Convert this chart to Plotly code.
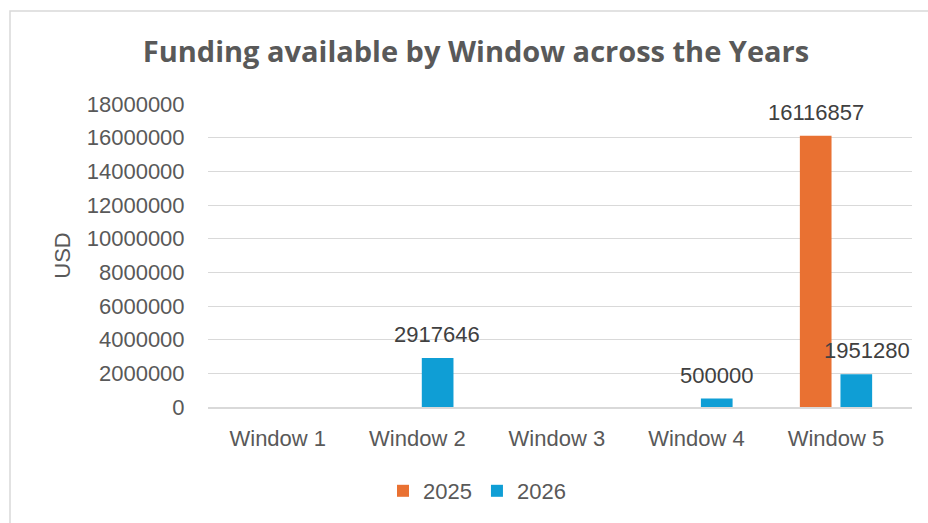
import plotly.graph_objects as go

categories = ["Window 1", "Window 2", "Window 3", "Window 4", "Window 5"]
values_2025 = [0, 0, 0, 0, 16116857]
values_2026 = [0, 2917646, 0, 500000, 1951280]
series_names = ["2025", "2026"]
y_ticks = list(range(0, 18000001, 2000000))

colors = ["#E97132", "#0F9ED5"]
txt = "#595959"
font_family = "Liberation Sans, Arial, sans-serif"
title_family = "Open Sans, sans-serif"

fig = go.Figure()
for name, vals, col in zip(series_names, [values_2025, values_2026], colors):
    fig.add_trace(go.Bar(x=categories, y=vals, name=name, marker_color=col,
                         marker_line_width=0))

annotations = []
for vals, shift in [(values_2025, -20), (values_2026, 20)]:
    for c, v in zip(categories, vals):
        if v:
            annotations.append(dict(x=c, y=v, xref="x", yref="y", text=str(v),
                                    showarrow=False, xshift=shift, yshift=9,
                                    yanchor="bottom",
                                    font=dict(size=22, color="#404040", family=font_family)))
# keep the last label inside the plot area (as in the source chart)
annotations[-1]["xshift"] = 31

fig.update_layout(
    width=928, height=523,
    margin=dict(l=208, r=16, t=104, b=116, autoexpand=False),
    paper_bgcolor="white", plot_bgcolor="white",
    barmode="group", bargap=0.418, bargroupgap=0.22,
    font=dict(family=font_family, color=txt, size=22),
    title=dict(text="<b>Funding available by Window across the Years</b>",
               x=476/928, xanchor="center", y=1-52/523, yanchor="middle",
               font=dict(size=29, color=txt, family=title_family)),
    legend=dict(orientation="h", x=(477-208)/704, xanchor="center",
                y=(407-491)/303, yanchor="middle", font=dict(size=22, color=txt),
                itemwidth=30),
    annotations=annotations,
    showlegend=True,
)
fig.update_yaxes(range=[0, 18000000], tickvals=y_ticks, ticktext=[str(t) for t in y_ticks],
                 showgrid=True, gridcolor="#D9D9D9", gridwidth=1.3, zeroline=False,
                 ticks="outside", ticklen=18, tickcolor="rgba(0,0,0,0)",
                 tickfont=dict(size=22, color=txt),
                 title=dict(text="USD", font=dict(size=22, color=txt), standoff=10),
                 showline=False)
fig.update_xaxes(showline=True, linecolor="#D9D9D9", linewidth=1.5,
                 ticks="outside", ticklen=11, tickcolor="rgba(0,0,0,0)",
                 tickfont=dict(size=22, color=txt))
fig.add_shape(type="rect", xref="paper", yref="paper",
              x0=(10-208)/704, x1=(935-208)/704, y0=(407-530)/303, y1=(407-11)/303,
              line=dict(color="#D9D9D9", width=1.5), layer="below")

fig.write_html("out.html")
